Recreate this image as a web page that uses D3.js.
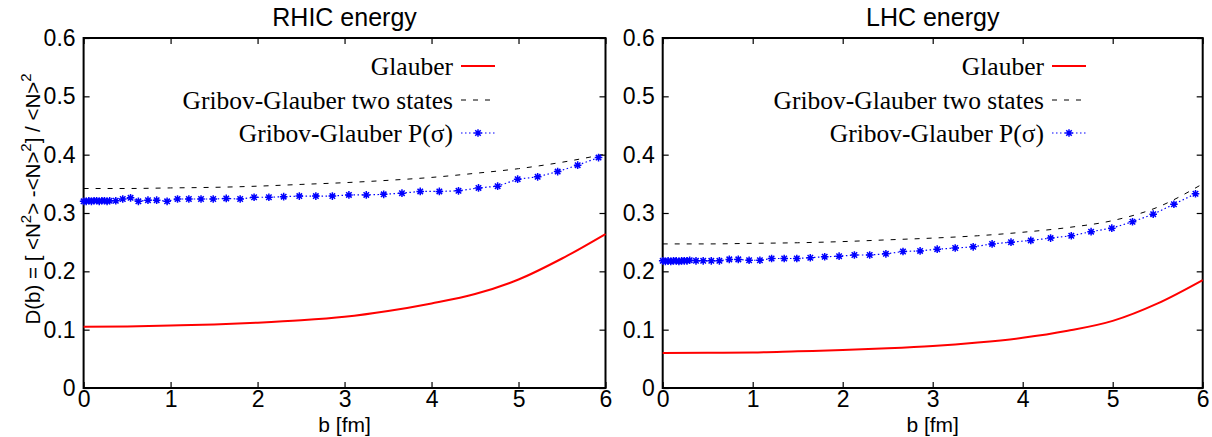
<!DOCTYPE html>
<html><head><meta charset="utf-8">
<script src="https://cdn.jsdelivr.net/npm/d3@7"></script>
<style>body{margin:0;background:#fff} svg{display:block}</style>
</head><body><svg id="c" width="1212" height="437"></svg>
<script>
// ---- data ----
const xTicks = [0, 1, 2, 3, 4, 5, 6];
const yTicks = [0, 0.1, 0.2, 0.3, 0.4, 0.5, 0.6];
const titles = ["RHIC energy", "LHC energy"];
const legendLabels = ["Glauber", "Gribov-Glauber two states", "Gribov-Glauber P(\u03c3)"];

const bLine = [0, 0.5, 1, 1.5, 2, 2.5, 3, 3.5, 4, 4.5, 5, 5.5, 6];
const rhicGlauber   = [0.105, 0.1055, 0.107, 0.109, 0.112, 0.116, 0.122, 0.132, 0.145, 0.161, 0.186, 0.222, 0.264];
const rhicTwoStates = [0.342, 0.342, 0.343, 0.344, 0.346, 0.349, 0.352, 0.356, 0.361, 0.368, 0.376, 0.387, 0.401];
const lhcGlauber    = [0.060, 0.0605, 0.061, 0.063, 0.065, 0.068, 0.072, 0.078, 0.086, 0.098, 0.115, 0.145, 0.185];
const lhcTwoStates  = [0.247, 0.247, 0.248, 0.249, 0.251, 0.254, 0.257, 0.261, 0.267, 0.275, 0.287, 0.310, 0.350];

const bPts = [0, 0.03, 0.06, 0.09, 0.12, 0.15, 0.18, 0.21, 0.24, 0.27, 0.30, 0.37, 0.45, 0.54, 0.63, 0.74,
              0.84, 0.96, 1.08, 1.21, 1.35, 1.49, 1.64, 1.80, 1.96, 2.13, 2.30, 2.48, 2.67, 2.86, 3.05,
              3.25, 3.45, 3.66, 3.87, 4.09, 4.31, 4.54, 4.76, 4.99, 5.22, 5.45, 5.68, 5.92];
const rhicPsigma = [0.320, 0.320, 0.321, 0.320, 0.321, 0.321, 0.320, 0.321, 0.321, 0.320, 0.321, 0.321, 0.324, 0.326, 0.320, 0.322,
                    0.322, 0.320, 0.324, 0.324, 0.324, 0.324, 0.325, 0.324, 0.327, 0.327, 0.328, 0.329, 0.329, 0.329, 0.331,
                    0.331, 0.332, 0.334, 0.337, 0.337, 0.338, 0.343, 0.346, 0.358, 0.362, 0.371, 0.382, 0.395];
const lhcPsigma  = [0.218, 0.217, 0.218, 0.217, 0.218, 0.218, 0.217, 0.218, 0.218, 0.218, 0.219, 0.218, 0.218, 0.218, 0.218, 0.2205,
                    0.2205, 0.219, 0.219, 0.222, 0.222, 0.222, 0.2234, 0.225, 0.226, 0.228, 0.228, 0.230, 0.234, 0.235, 0.238,
                    0.240, 0.242, 0.247, 0.250, 0.253, 0.257, 0.261, 0.268, 0.274, 0.285, 0.298, 0.315, 0.333];

// ---- layout ----
const svg = d3.select("#c");
const SANS = "'Liberation Sans', Arial, Helvetica, sans-serif";
const SERIF = "'Liberation Serif', 'Times New Roman', serif";

const panels = [
  {title: titles[0], x0: 83.6, x1: 605.5, glauber: rhicGlauber, two: rhicTwoStates, psig: rhicPsigma, legRight: 495},
  {title: titles[1], x0: 662.7, x1: 1202.7, glauber: lhcGlauber, two: lhcTwoStates, psig: lhcPsigma, legRight: 1086}
];
const Y0 = 388, Y1 = 38;

function star(s) {
  const d = s * 0.72;
  return `M${-s},0H${s}M0,${-s}V${s}M${-d},${-d}L${d},${d}M${-d},${d}L${d},${-d}`;
}

panels.forEach((p, i) => {
  const x = d3.scaleLinear().domain([0, 6]).range([p.x0, p.x1]);
  const y = d3.scaleLinear().domain([0, 0.6]).range([Y0, Y1]);
  const g = svg.append("g");

  // axes (ticks inward, mirrored)
  const axB = g.append("g").attr("transform", `translate(0,${Y0})`)
    .call(d3.axisBottom(x).tickValues(xTicks).tickSize(-6).tickPadding(3).tickFormat(d3.format("d")));
  const axL = g.append("g").attr("transform", `translate(${p.x0},0)`)
    .call(d3.axisLeft(y).tickValues(yTicks).tickSize(-6).tickPadding(8).tickFormat(d => d === 0 ? "0" : d3.format(".1f")(d)));
  const axT = g.append("g").attr("transform", `translate(0,${Y1})`)
    .call(d3.axisTop(x).tickValues(xTicks).tickSize(-6).tickFormat(""));
  const axR = g.append("g").attr("transform", `translate(${p.x1},0)`)
    .call(d3.axisRight(y).tickValues(yTicks).tickSize(-6).tickFormat(""));
  [axB, axL, axT, axR].forEach(a => {
    a.select(".domain").remove();
    a.selectAll(".tick line").attr("stroke", "#000").attr("stroke-width", 1.2);
    a.selectAll("text").attr("font-family", SANS).attr("font-size", 23).attr("fill", "#000");
  });
  axB.selectAll("text").attr("dy", "0.71em");

  // frame
  g.append("rect").attr("x", p.x0).attr("y", Y1).attr("width", p.x1 - p.x0).attr("height", Y0 - Y1)
    .attr("fill", "none").attr("stroke", "#000").attr("stroke-width", 2);

  // title & x label
  g.append("text").attr("x", (p.x0 + p.x1) / 2).attr("y", 26).attr("text-anchor", "middle")
    .attr("font-family", SANS).attr("font-size", 25).text(p.title);
  g.append("text").attr("x", (p.x0 + p.x1) / 2).attr("y", 432).attr("text-anchor", "middle")
    .attr("font-family", SANS).attr("font-size", 21).text("b [fm]");

  const lineC = d3.line().x((d, k) => x(bLine[k])).y(d => y(d)).curve(d3.curveMonotoneX);
  const lineP = d3.line().x((d, k) => x(bPts[k])).y(d => y(d));

  g.append("path").attr("d", lineC(p.two)).attr("fill", "none").attr("stroke", "#000")
    .attr("stroke-width", 1).attr("stroke-dasharray", "5,7");
  g.append("path").attr("d", lineP(p.psig)).attr("fill", "none").attr("stroke", "#0000ff")
    .attr("stroke-width", 1.2).attr("stroke-dasharray", "1.5,2.5");
  g.append("g").selectAll("path").data(p.psig).join("path")
    .attr("transform", (d, k) => `translate(${x(bPts[k])},${y(d)})`)
    .attr("d", star(3.8)).attr("fill", "none").attr("stroke", "#0000ff").attr("stroke-width", 1.5);
  g.append("path").attr("d", lineC(p.glauber)).attr("fill", "none").attr("stroke", "#ff0000")
    .attr("stroke-width", 2);

  // legend
  const rows = [66, 100, 133];
  const lx1 = p.legRight, lx0 = p.legRight - 34;
  legendLabels.forEach((lab, k) => {
    g.append("text").attr("x", lx0 - 8).attr("y", rows[k] + 9).attr("text-anchor", "end")
      .attr("font-family", SERIF).attr("font-size", 25.5).text(lab);
  });
  g.append("line").attr("x1", lx0).attr("x2", lx1).attr("y1", rows[0]).attr("y2", rows[0])
    .attr("stroke", "#ff0000").attr("stroke-width", 2);
  g.append("line").attr("x1", lx0).attr("x2", lx1).attr("y1", rows[1]).attr("y2", rows[1])
    .attr("stroke", "#000").attr("stroke-width", 1).attr("stroke-dasharray", "5,7");
  g.append("line").attr("x1", lx0).attr("x2", lx1).attr("y1", rows[2]).attr("y2", rows[2])
    .attr("stroke", "#0000ff").attr("stroke-width", 1.2).attr("stroke-dasharray", "1.5,2.5");
  g.append("path").attr("transform", `translate(${(lx0 + lx1) / 2},${rows[2]})`)
    .attr("d", star(3.8)).attr("fill", "none").attr("stroke", "#0000ff").attr("stroke-width", 1.5);
});

// y-axis label
const yl = svg.append("text").attr("transform", "translate(40,199) rotate(-90)")
  .attr("text-anchor", "middle").attr("font-family", SANS).attr("font-size", 20.5);
yl.append("tspan").text("D(b) = [ <N");
yl.append("tspan").attr("dy", -9).attr("font-size", 15).text("2");
yl.append("tspan").attr("dy", 9).text("> -<N>");
yl.append("tspan").attr("dy", -9).attr("font-size", 15).text("2");
yl.append("tspan").attr("dy", 9).text("] / <N>");
yl.append("tspan").attr("dy", -9).attr("font-size", 15).text("2");
</script></body></html>
